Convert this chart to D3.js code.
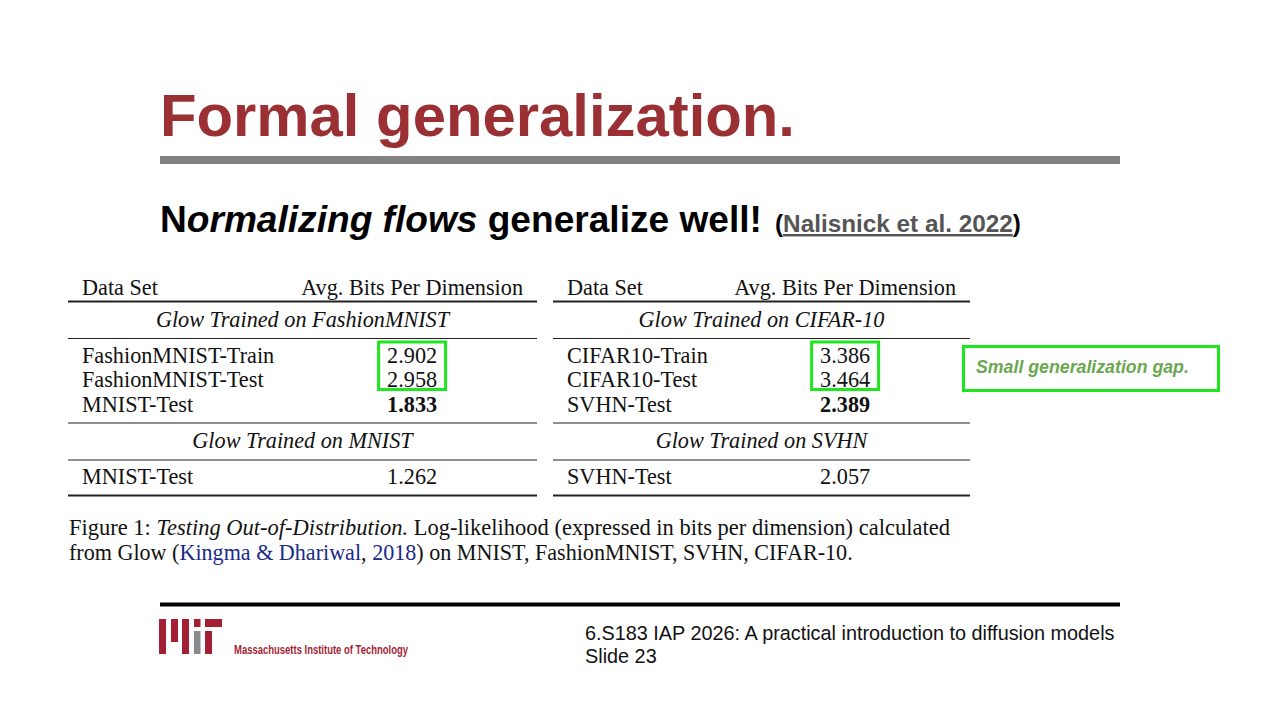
<!DOCTYPE html>
<html lang="en">
<head>
<meta charset="UTF-8">
<title>Formal generalization</title>
<script src="https://d3js.org/d3.v7.min.js"></script>
<style>
  html, body { margin: 0; padding: 0; background: #fff; }
  svg { display: block; }
  .sans { font-family: "Liberation Sans", Arial, Helvetica, sans-serif; }
  .serif { font-family: "Liberation Serif", "Times New Roman", serif; }
</style>
</head>
<body>
<svg width="1280" height="720"></svg>
<script>
// ---- data ----
const colHeaders = ["Data Set", "Avg. Bits Per Dimension"];

const leftGroups = ["Glow Trained on FashionMNIST", "Glow Trained on MNIST"];
const leftNames  = [["FashionMNIST-Train", "FashionMNIST-Test", "MNIST-Test"], ["MNIST-Test"]];
const leftValues = [[2.902, 2.958, 1.833], [1.262]];
const leftBold   = [[false, false, true], [false]];

const rightGroups = ["Glow Trained on CIFAR-10", "Glow Trained on SVHN"];
const rightNames  = [["CIFAR10-Train", "CIFAR10-Test", "SVHN-Test"], ["SVHN-Test"]];
const rightValues = [[3.386, 3.464, 2.389], [2.057]];
const rightBold   = [[false, false, true], [false]];

// rows inside first group that get the green box
const highlightRows = [0, 1];

const svg = d3.select("svg");
const fmt = d3.format(".3f");

// scale font size so the text takes a given width
function fit(sel, target) {
  const fs = parseFloat(sel.attr("font-size"));
  const w = sel.node().getComputedTextLength();
  sel.attr("font-size", fs * target / w);
  return sel;
}

// ---- title ----
svg.append("text").attr("class", "sans")
  .attr("x", 160).attr("y", 136)
  .attr("font-size", 60).attr("font-weight", "bold")
  .attr("fill", "#9a3034")
  .text("Formal generalization.")
  .call(s => fit(s, 635));

svg.append("rect").attr("x", 160).attr("y", 156).attr("width", 960).attr("height", 8)
  .attr("fill", "#828282");

// ---- subtitle ----
const sub = svg.append("text").attr("class", "sans")
  .attr("x", 160).attr("y", 232)
  .attr("font-size", 37).attr("font-weight", "bold").attr("fill", "#000");
sub.append("tspan").text("N");
sub.append("tspan").attr("font-style", "italic").text("ormalizing flows");
sub.append("tspan").text(" generalize well!");
fit(sub, 602);

const cite = svg.append("text").attr("class", "sans")
  .attr("x", 775).attr("y", 232)
  .attr("font-size", 24).attr("font-weight", "bold").attr("fill", "#000");
cite.append("tspan").text("(");
cite.append("tspan").attr("fill", "#555").attr("text-decoration", "underline")
  .text("Nalisnick et al. 2022");
cite.append("tspan").text(")");
fit(cite, 246);

// ---- tables ----
function drawTable(x0, x1, groups, names, values, bold) {
  const g = svg.append("g").attr("class", "serif").attr("fill", "#111");
  const padL = 14, padR = 14;

  const rule = (y, w) => g.append("line")
    .attr("x1", x0).attr("x2", x1).attr("y1", y).attr("y2", y)
    .attr("stroke", "#222").attr("stroke-width", w);

  g.append("text").attr("x", x0 + padL).attr("y", 295)
    .attr("font-size", 21).text(colHeaders[0]);
  const h2 = g.append("text").attr("x", x1 - padR).attr("y", 295)
    .attr("font-size", 21).attr("text-anchor", "end").text(colHeaders[1]);
  fit(h2, 222);
  const fs = +h2.attr("font-size");
  g.selectAll("text").attr("font-size", fs);
  const valX = x1 - padR - h2.node().getComputedTextLength() / 2;
  const midX = (x0 + x1) / 2;

  let y = 301.5;
  rule(y, 1.9);
  const boxes = [];
  groups.forEach((grp, gi) => {
    g.append("text").attr("x", midX).attr("y", y + 25)
      .attr("font-size", fs).attr("font-style", "italic")
      .attr("text-anchor", "middle").text(grp);
    y += 37;
    rule(y, 1.2);
    const rowY = d3.scaleLinear().domain([0, 1]).range([y + 24, y + 48.5]);
    names[gi].forEach((n, i) => {
      g.append("text").attr("x", x0 + padL).attr("y", rowY(i))
        .attr("font-size", fs).text(n);
      g.append("text").attr("x", valX).attr("y", rowY(i))
        .attr("font-size", fs).attr("text-anchor", "middle")
        .attr("font-weight", bold[gi][i] ? "bold" : "normal")
        .text(fmt(values[gi][i]));
    });
    if (gi === 0) boxes.push([rowY(highlightRows[0]) - 20.5, rowY(highlightRows[highlightRows.length - 1]) + 2.5]);
    y = rowY(names[gi].length - 1) + 11.5;
    rule(y, gi === groups.length - 1 ? 1.9 : 1.2);
  });

  boxes.forEach(([ya, yb]) => {
    svg.append("rect")
      .attr("x", valX - 33.5).attr("y", ya)
      .attr("width", 67).attr("height", yb - ya)
      .attr("fill", "none").attr("stroke", "#1ee61e").attr("stroke-width", 3);
  });
}

drawTable(68, 537, leftGroups, leftNames, leftValues, leftBold);
drawTable(553, 970, rightGroups, rightNames, rightValues, rightBold);

// ---- annotation ----
svg.append("rect").attr("x", 963.5).attr("y", 346.5).attr("width", 255).attr("height", 44)
  .attr("fill", "none").attr("stroke", "#1ee61e").attr("stroke-width", 3);
svg.append("text").attr("class", "sans")
  .attr("x", 976).attr("y", 373)
  .attr("font-size", 16.5).attr("font-weight", "bold").attr("font-style", "italic")
  .attr("fill", "#6aa84f")
  .text("Small generalization gap.")
  .call(s => fit(s, 213));

// ---- caption ----
const cap1 = svg.append("text").attr("class", "serif")
  .attr("x", 69).attr("y", 535).attr("font-size", 21).attr("fill", "#111");
cap1.append("tspan").text("Figure 1: ");
cap1.append("tspan").attr("font-style", "italic").text("Testing Out-of-Distribution.");
cap1.append("tspan").text(" Log-likelihood (expressed in bits per dimension) calculated");
fit(cap1, 881);
const capFs = +cap1.attr("font-size");

const link = "#1b2a86";
const cap2 = svg.append("text").attr("class", "serif")
  .attr("x", 69).attr("y", 560).attr("font-size", capFs).attr("fill", "#111");
cap2.append("tspan").text("from Glow (");
cap2.append("tspan").attr("fill", link).text("Kingma & Dhariwal");
cap2.append("tspan").text(", ");
cap2.append("tspan").attr("fill", link).text("2018");
cap2.append("tspan").text(") on MNIST, FashionMNIST, SVHN, CIFAR-10.");
fit(cap2, 784);

// ---- footer ----
svg.append("rect").attr("x", 160).attr("y", 602.5).attr("width", 960).attr("height", 4)
  .attr("fill", "#000");

const mitRed = "#a31f34", mitGray = "#8a8b8c";
const logo = [
  [159, 619, 7, 35, mitRed],
  [171, 619, 7, 23, mitRed],
  [182, 619, 7, 35, mitRed],
  [194, 619, 6.5, 8, mitRed],
  [194, 631, 6.5, 23, mitGray],
  [205, 619, 17, 8, mitRed],
  [205, 631, 7, 23, mitRed]
];
svg.append("g").selectAll("rect").data(logo).join("rect")
  .attr("x", d => d[0]).attr("y", d => d[1])
  .attr("width", d => d[2]).attr("height", d => d[3])
  .attr("fill", d => d[4]);

svg.append("text")
  .attr("x", 234).attr("y", 654)
  .attr("font-family", "'Liberation Sans Narrow', 'Liberation Sans', Arial, sans-serif")
  .attr("font-size", 12.5).attr("font-weight", "bold").attr("fill", mitRed)
  .attr("textLength", 174).attr("lengthAdjust", "spacingAndGlyphs")
  .text("Massachusetts Institute of Technology");

const foot = svg.append("text").attr("class", "sans")
  .attr("x", 585).attr("y", 640).attr("font-size", 17.5).attr("fill", "#111")
  .text("6.S183 IAP 2026: A practical introduction to diffusion models");
fit(foot, 530);
svg.append("text").attr("class", "sans")
  .attr("x", 585).attr("y", 663).attr("font-size", foot.attr("font-size")).attr("fill", "#111")
  .text("Slide 23");
</script>
</body>
</html>
